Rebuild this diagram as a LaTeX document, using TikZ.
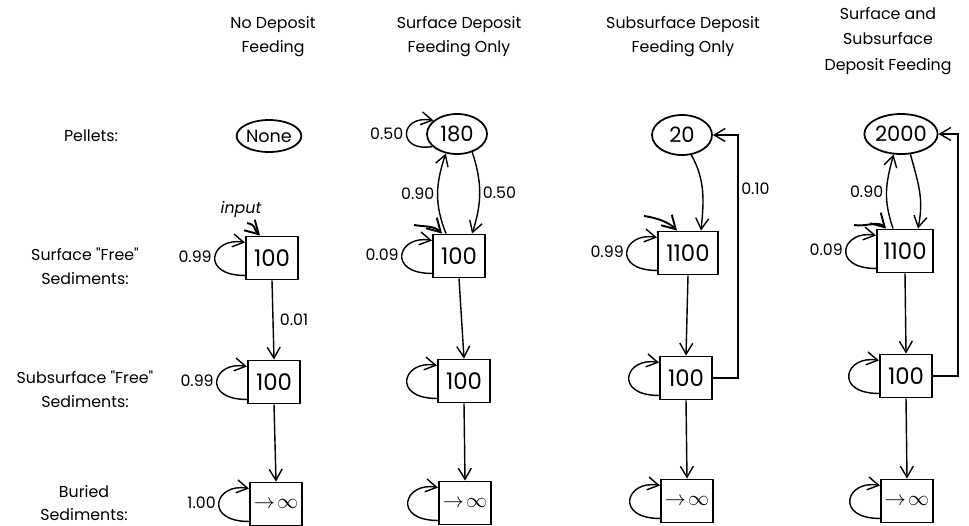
\documentclass[tikz,border=0pt]{standalone}
\usepackage{fontspec}
\setmainfont{Poppins}
\usetikzlibrary{arrows.meta,shapes.geometric,positioning}

\tikzset{
  pool/.style={draw,line width=1.1pt,minimum width=1.04cm,minimum height=0.86cm,inner sep=1pt,font=\fontsize{13}{13}\selectfont},
  pellet/.style={draw,ellipse,line width=1pt,inner sep=0pt,minimum width=1.2cm,minimum height=0.8cm,font=\fontsize{12}{12}\selectfont},
  flow/.style={-{Straight Barb[length=2.2mm,width=2.6mm]},line width=0.8pt},
  feed/.style={-{Straight Barb[length=2.6mm,width=3mm]},line width=1.1pt},
  rate/.style={font=\fontsize{9}{9}\selectfont,inner sep=1.5pt},
  head/.style={align=center,font=\fontsize{9}{13.6}\selectfont},
}

\begin{document}
\begin{tikzpicture}[x=0.02cm,y=-0.02cm]
  \useasboundingbox (0,0) rectangle (969,525);

  % column heads
  \node (h1) [head] at (273,37) {No Deposit\\Feeding};
  \node (h2) [head] at (459,37) {Surface Deposit\\Feeding Only};
  \node (h3) [head] at (683,37) {Subsurface Deposit\\Feeding Only};
  \node (h4) [head,font=\fontsize{9}{14.7}\selectfont] at (888,41) {Surface and\\Subsurface\\Deposit Feeding};

  % row labels
  \node (r1) [head] at (91,136) {Pellets:};
  \node (r2) [head] at (85,266) {Surface \textquotedbl Free\textquotedbl\\Sediments:};
  \node (r3) [head] at (85,389) {Subsurface \textquotedbl Free\textquotedbl\\Sediments:};
  \node (r4) [head] at (84,503) {Buried\\Sediments:};

  % pellets
  \node (pel1) [pellet,minimum width=1.16cm,minimum height=0.64cm,font=\fontsize{10}{10}\selectfont] at (269,136) {None};
  \node (pel2) [pellet] at (457,134) {180};
  \node (pel3) [pellet] at (682,135) {20};
  \node (pel4) [pellet,minimum width=1.24cm] at (901,134) {2000};

  % surface, subsurface and buried pools
  \node (sf1) [pool] at (272,258) {100};
  \node (sf2) [pool] at (459,256) {100};
  \node (sf3) [pool,minimum width=1.2cm] at (688,253) {1100};
  \node (sf4) [pool,minimum width=1.12cm] at (905,251) {1100};
  \node (ss1) [pool] at (274,382) {100};
  \node (ss2) [pool] at (464,381) {100};
  \node (ss3) [pool] at (686,378) {100};
  \node (ss4) [pool] at (906,376) {100};
  \node (bu1) [pool] at (276,504) {$\rightarrow\!\infty$};
  \node (bu2) [pool] at (465,503) {$\rightarrow\!\infty$};
  \node (bu3) [pool] at (687,501) {$\rightarrow\!\infty$};
  \node (bu4) [pool] at (907,501) {$\rightarrow\!\infty$};

  % self loops
  \foreach \p/\r in {sf1/0.99,sf2/0.09,sf3/0.99,sf4/0.09,ss1/0.99,ss2/,ss3/,ss4/,bu1/1.00,bu2/,bu3/,bu4/}
    \draw[flow] ([yshift=0.1cm]\p.south west) .. controls +(-46,0) and +(-34,-6) .. ([yshift=-0.14cm]\p.north west)
      node[rate,pos=0.5,anchor=east] {\r};
  \draw[flow] (pel2.207) .. controls +(-36,6) and +(-34,-6) .. (pel2.150) node[rate,pos=0.5,anchor=east] {0.50};

  % downward flows
  \draw[flow] (sf1.south) -- (ss1.north) node[rate,pos=0.5,right=2pt] {0.01};
  \foreach \c in {2,3,4}
    \draw[flow] (sf\c.south) -- (ss\c.north);
  \foreach \c in {1,...,4}
    \draw[flow] (ss\c.south) -- (bu\c.north);

  % input
  \node (inp) [rate,font=\fontsize{9}{9}\selectfont\itshape] at (241,210) {input};
  \coordinate (in2) at (414,225);
  \coordinate (in3) at (644,216);
  \coordinate (in4) at (854,225);
  \draw[feed] ([xshift=0.12cm,yshift=-0.04cm]inp.south) .. controls +(10,2) and +(-8,-8) .. ([xshift=0.3cm]sf1.north west);
  \draw[feed] (in2) .. controls +(12,2) and +(-8,-8) .. ([xshift=0.2cm]sf2.north west);
  \draw[feed] (in3) .. controls +(14,2) and +(-8,-8) .. ([xshift=0.4cm]sf3.north west);
  \draw[feed] (in4) .. controls +(12,2) and +(-8,-8) .. ([xshift=0.2cm]sf4.north west);

  % pellet exchange
  \draw[flow] ([xshift=-0.26cm]sf2.north) .. controls +(-12,-30) and +(-10,30) .. (pel2.240) node[rate,pos=0.5,anchor=east] {0.90};
  \draw[flow] (pel2.310) .. controls +(10,30) and +(10,-30) .. ([xshift=0.26cm]sf2.north) node[rate,pos=0.5,anchor=west] {0.50};
  \draw[flow] (pel3.295) .. controls +(14,25) and +(3,-30) .. ([xshift=0.26cm]sf3.north);
  \draw[flow] ([xshift=-0.24cm]sf4.north) .. controls +(-10,-30) and +(-8,30) .. (pel4.250) node[rate,pos=0.5,anchor=east] {0.90};
  \draw[flow] (pel4.295) .. controls +(8,30) and +(6,-30) .. ([xshift=0.26cm]sf4.north);

  % subsurface to pellets
  \draw[flow] (ss3.east) -- ++(25,0) |- (pel3.east) node[rate,pos=0.39,right] {0.10};
  \draw[flow] (ss4.east) -- ++(25,0) |- (pel4.east);
\end{tikzpicture}
\end{document}
